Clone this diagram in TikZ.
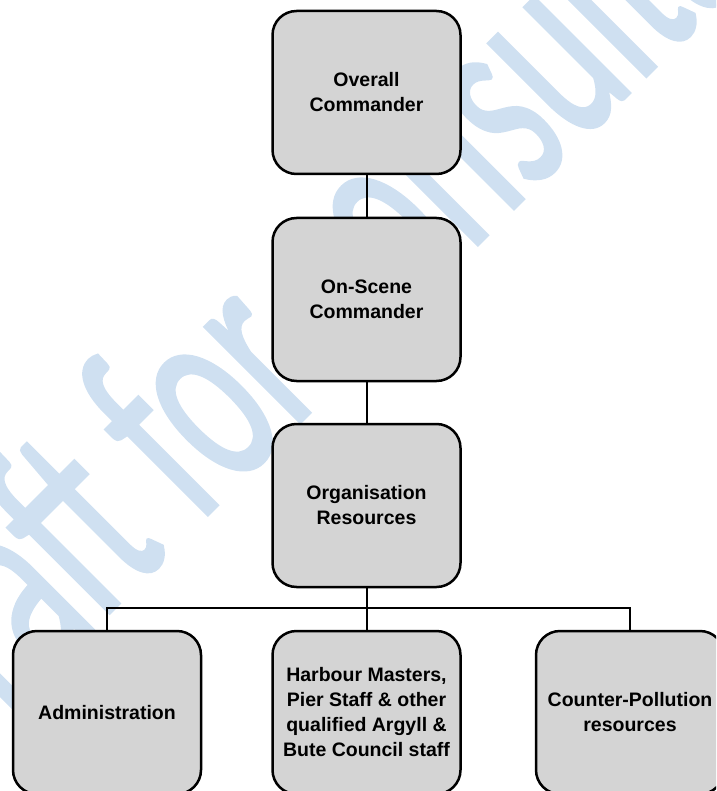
\documentclass[tikz,border=0pt]{standalone}
\usepackage{fontspec}
\setmainfont{Liberation Sans}
\newfontfamily\wmfont[FakeBold=1.5]{Carlito}
\usetikzlibrary{positioning}
\definecolor{boxgrey}{RGB}{212,212,212}
\definecolor{wmblue}{RGB}{207,224,241}

\begin{document}
\begin{tikzpicture}[x=1pt,y=-1pt,
    b/.style={draw,line width=2.5pt,rounded corners=24pt,fill=boxgrey,minimum width=188pt,minimum height=163pt,align=center,font=\fontsize{19.5}{25}\selectfont\bfseries},%
    c/.style={line width=2pt}]
    \useasboundingbox (0,0) rectangle (716,791);
    \clip (0,0) rectangle (716,791);
    % watermark behind the chart
    \node[text=wmblue,font=\wmfont\fontsize{165}{165}\selectfont,anchor=base west,rotate=45,yscale=1.7,inner sep=0pt] (wm) at (-66,788) {Draft for consultation};
    \node[b] (OC) at (366.5,92.5) {Overall\\Commander};
    \node[b] (OSC) at (366.5,299.5) {On-Scene\\Commander};
    \node[b] (Org) at (366.5,505.5) {Organisation\\Resources};
    \node[b] (Adm) at (107,712.5) {Administration};
    \node[b] (HM) at (366.5,712.5) {Harbour Masters,\\Pier Staff \& other\\qualified Argyll \&\\Bute Council staff};
    \node[b] (CP) at (630,712.5) {Counter-Pollution\\resources};
    \coordinate (bar) at (366.5,608);
    \draw[c] (OC) -- (OSC);
    \draw[c] (OSC) -- (Org);
    \draw[c] (Org) -- (HM);
    \draw[c] (Adm.north) |- (bar) -| (CP.north);
\end{tikzpicture}
\end{document}
